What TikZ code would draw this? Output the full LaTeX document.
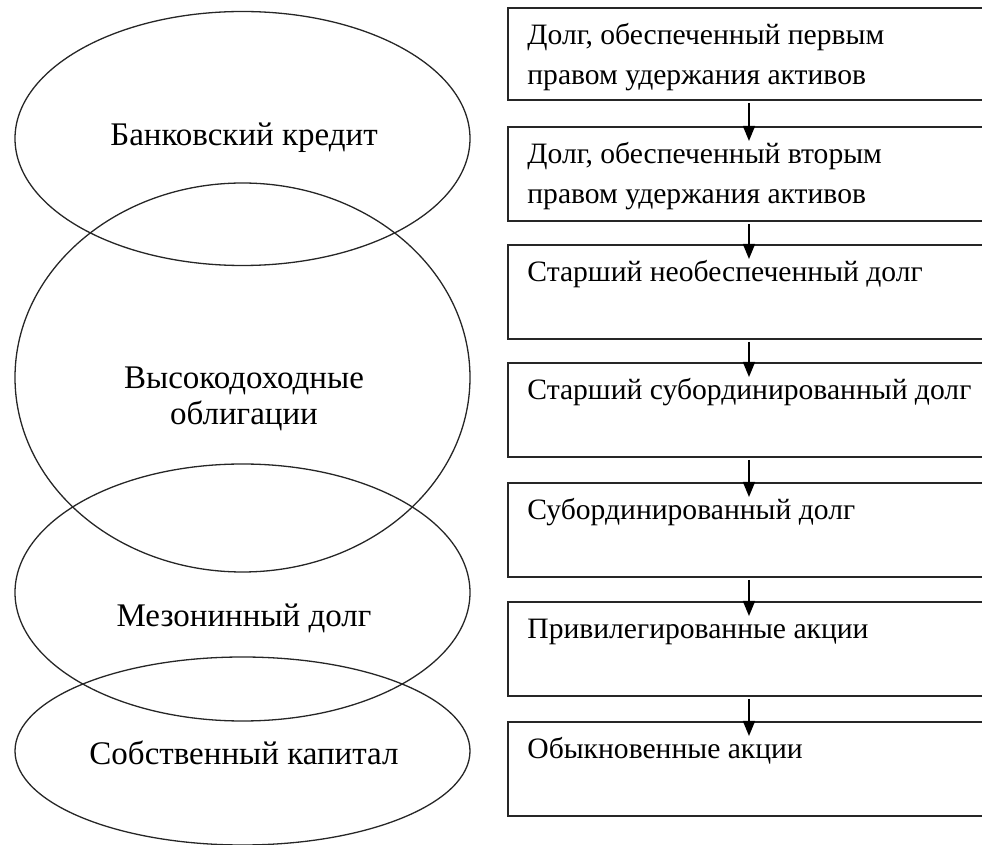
\documentclass[tikz,border=0pt]{standalone}
\usepackage{fontspec}
\setmainfont{Liberation Serif}
\usetikzlibrary{arrows.meta,shapes.geometric}
\begin{document}
\begin{tikzpicture}[x=0.5pt,y=-0.5pt,
  ell/.style={draw=black!85, line width=0.65pt, ellipse, inner sep=0pt, minimum width=227.5pt},
  ebox/.style={draw=black!85, line width=0.9pt, rectangle, inner sep=0pt, anchor=north west, minimum width=250pt, minimum height=47pt},
  etxt/.style={inner sep=0pt, align=center, font=\fontsize{16.5}{18}\selectfont},
  btxt/.style={inner sep=0pt, anchor=base west, font=\fontsize{14.8}{20}\selectfont},
  arr/.style={draw=black, line width=0.7pt, -{Triangle[length=7.5pt,width=6pt]}}]
\useasboundingbox (0,0) rectangle (982,845);
\clip (0,0) rectangle (982,845);
% ellipses
\node[ell, minimum height=127pt] (e1) at (242.5,138.5) {};
\node[ell, minimum height=194.5pt] (e2) at (242.5,377.5) {};
\node[ell, minimum height=128.5pt] (e3) at (242.5,592.5) {};
\node[ell, minimum height=94pt] (e4) at (242.5,751) {};
\node[etxt] (te1) at (244,138) {Банковский кредит};
\node[etxt] (te2) at (244,399) {Высокодоходные\\облигации};
\node[etxt] (te3) at (244,618) {Мезонинный долг};
\node[etxt] (te4) at (244,753) {Собственный капитал};
% boxes
\node[ebox, minimum height=46pt] (b1) at (507,7) {};
\node[ebox] (b2) at (507,126) {};
\node[ebox] (b3) at (507,244) {};
\node[ebox] (b4) at (507,362) {};
\node[ebox] (b5) at (507,482) {};
\node[ebox] (b6) at (507,601) {};
\node[ebox] (b7) at (507,721) {};
\node[btxt] (t1) at ([shift={(20,38)}]b1.north west) {\begin{tabular}[t]{@{}l@{}}Долг, обеспеченный первым\\правом удержания активов\end{tabular}};
\node[btxt] (t2) at ([shift={(20,38)}]b2.north west) {\begin{tabular}[t]{@{}l@{}}Долг, обеспеченный вторым\\правом удержания активов\end{tabular}};
\node[btxt] (t3) at ([shift={(20,38)}]b3.north west) {Старший необеспеченный долг};
\node[btxt] (t4) at ([shift={(20,38)}]b4.north west) {Старший субординированный долг};
\node[btxt] (t5) at ([shift={(20,38)}]b5.north west) {Субординированный долг};
\node[btxt] (t6) at ([shift={(20,38)}]b6.north west) {Привилегированные акции};
\node[btxt] (t7) at ([shift={(20,38)}]b7.north west) {Обыкновенные акции};
% arrows
\coordinate (ax) at (749,0);
\foreach \a/\b in {b1/b2,b2/b3,b3/b4,b4/b5,b5/b6,b6/b7}{
  \draw[arr] ([yshift=-1pt]\a.south -| ax) -- ([yshift=-7.5pt]\b.north -| ax);
}
\end{tikzpicture}
\end{document}
